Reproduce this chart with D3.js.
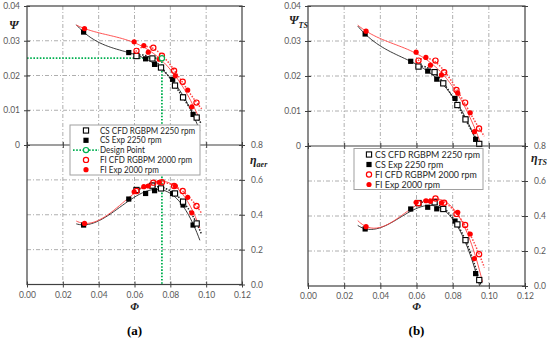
<!DOCTYPE html>
<html><head><meta charset="utf-8">
<script src="https://cdn.jsdelivr.net/npm/d3@7"></script>
<style>body{margin:0;background:#fff}svg{display:block}</style>
</head><body>
<svg id="c" width="550" height="340"></svg>
<script>
// ---------- DATA ----------
const xTicks = [0, 0.02, 0.04, 0.06, 0.08, 0.10, 0.12];
const psiTicks = [0, 0.01, 0.02, 0.03, 0.04];
const etaTicks = [0, 0.2, 0.4, 0.6, 0.8];
const etaExtraTicks = [1.0, 1.2, 1.4, 1.6];

const phiCSCFD = [0.0611, 0.0700, 0.0748, 0.0826, 0.0871, 0.0947];
const phiCSExp = [0.0316, 0.0568, 0.0662, 0.0712, 0.0813, 0.0871, 0.0927];
const phiFICFD = [0.0611, 0.0705, 0.0753, 0.0821, 0.0869, 0.0946];
const phiFIExp = [0.0321, 0.0598, 0.0652, 0.0677, 0.0738, 0.0828, 0.0897, 0.0920];

// panel (a)
const psiCSCFD = [0.0256, 0.0249, 0.0223, 0.0171, 0.0137, 0.0079];
const psiCSExp = [0.0325, 0.0266, 0.0248, 0.0232, 0.0189, 0.0138, 0.0088];
const psiFICFD = [0.0271, 0.0280, 0.0257, 0.0214, 0.0182, 0.0122];
const psiFIExp = [0.0335, 0.0297, 0.0286, 0.0267, 0.0247, 0.0199, 0.0158, 0.0110];
const etaCSCFD = [0.542, 0.567, 0.551, 0.522, 0.475, 0.350];
const etaCSExp = [0.341, 0.490, 0.522, 0.538, 0.522, 0.456, 0.341];
const etaFICFD = [0.536, 0.584, 0.586, 0.565, 0.536, 0.450];
const etaFIExp = [0.350, 0.532, 0.561, 0.565, 0.586, 0.565, 0.500, 0.411];

// panel (b)
const psiTSCSCFD = [0.0227, 0.0211, 0.0179, 0.0117, 0.0076, 0.0006];
const psiTSCSExp = [0.0320, 0.0242, 0.0214, 0.0191, 0.0136, 0.0077, 0.0019];
const psiTSFICFD = [0.0244, 0.0244, 0.0211, 0.0160, 0.0124, 0.0050];
const psiTSFIExp = [0.0328, 0.0268, 0.0253, 0.0231, 0.0203, 0.0151, 0.0095, 0.0041];
const etaTSCSCFD = [0.474, 0.478, 0.440, 0.352, 0.262, 0.034];
const etaTSCSExp = [0.326, 0.440, 0.450, 0.441, 0.371, 0.264, 0.071];
const etaTSFICFD = [0.473, 0.500, 0.476, 0.412, 0.349, 0.182];
const etaTSFIExp = [0.339, 0.478, 0.487, 0.484, 0.475, 0.421, 0.297, 0.157];

const designPhi = 0.0753, designPsi = 0.025;
const expTrendRange = [0.0275, 0.0965];
const cfdTrendRange = [0.0595, 0.0975];

const legendA = ["CS CFD RGBPM 2250 rpm", "CS Exp 2250 rpm", "Design Point", "FI CFD RGBPM 2000 rpm", "FI Exp 2000 rpm"];
const legendB = ["CS CFD RGBPM 2250 rpm", "CS Exp 2250 rpm", "FI CFD RGBPM 2000 rpm", "FI Exp 2000 rpm"];

// ---------- HELPERS ----------
const RED = "#ff0000", GREEN = "#00b050", GRID = "#9a9a9a", FRAME = "#404040", TXT = "#595959";
const SANS = "Lato, 'Liberation Sans', sans-serif";
const svg = d3.select("#c");

function polyfit(xs, ys, deg) {
  const n = deg + 1, mx = d3.mean(xs), s = 0.03;
  const A = Array.from({length: n}, () => new Array(n + 1).fill(0));
  xs.forEach((x0, k) => {
    const x = (x0 - mx) / s;
    for (let i = 0; i < n; i++) {
      for (let j = 0; j < n; j++) A[i][j] += Math.pow(x, i + j);
      A[i][n] += ys[k] * Math.pow(x, i);
    }
  });
  for (let i = 0; i < n; i++) {
    let p = i; for (let r = i + 1; r < n; r++) if (Math.abs(A[r][i]) > Math.abs(A[p][i])) p = r;
    [A[i], A[p]] = [A[p], A[i]];
    for (let r = 0; r < n; r++) if (r !== i) {
      const f = A[r][i] / A[i][i];
      for (let c = i; c <= n; c++) A[r][c] -= f * A[i][c];
    }
  }
  const coef = A.map((row, i) => row[n] / row[i]);
  return x0 => { const x = (x0 - mx) / s; return coef.reduce((a, c, i) => a + c * Math.pow(x, i), 0); };
}

function marker(g, cx, cy, sym, r) {
  if (sym === "os") g.append("rect").attr("x", cx - r).attr("y", cy - r).attr("width", 2 * r).attr("height", 2 * r).attr("fill", "#fff").attr("stroke", "#000").attr("stroke-width", 1.1);
  else if (sym === "fs") g.append("rect").attr("x", cx - r).attr("y", cy - r).attr("width", 2 * r).attr("height", 2 * r).attr("fill", "#000");
  else if (sym === "oc") g.append("circle").attr("cx", cx).attr("cy", cy).attr("r", r).attr("fill", "none").attr("stroke", RED).attr("stroke-width", 1.2);
  else if (sym === "fc") g.append("circle").attr("cx", cx).attr("cy", cy).attr("r", r).attr("fill", RED);
  else if (sym === "dp") g.append("circle").attr("cx", cx).attr("cy", cy).attr("r", r).attr("fill", "#fff").attr("stroke", GREEN).attr("stroke-width", 1.2);
}

function drawPanel(cfg) {
  const g = svg.append("g");
  const x = d3.scaleLinear().domain([0, 0.12]).range([cfg.x0, cfg.x1]);
  const yT = d3.scaleLinear().domain([0, 0.04]).range([cfg.ym, cfg.y0]);
  const yB = d3.scaleLinear().domain([0, 0.8]).range([cfg.y1, cfg.ym]);
  const yBfull = d3.scaleLinear().domain([0, 1.6]).range([cfg.y1, cfg.y0]);
  const id = cfg.id;

  // grid
  const grid = g.append("g").attr("stroke", GRID).attr("stroke-width", 0.8).attr("stroke-dasharray", "4,2,1,2");
  xTicks.slice(1, -1).forEach(t => grid.append("line").attr("x1", x(t)).attr("x2", x(t)).attr("y1", cfg.y0).attr("y2", cfg.y1));
  psiTicks.slice(1, -1).forEach(t => grid.append("line").attr("x1", cfg.x0).attr("x2", cfg.x1).attr("y1", yT(t)).attr("y2", yT(t)));
  etaTicks.slice(1, -1).forEach(t => grid.append("line").attr("x1", cfg.x0).attr("x2", cfg.x1).attr("y1", yB(t)).attr("y2", yB(t)));

  // clips
  const defs = svg.append("defs");
  defs.append("clipPath").attr("id", id + "top").append("rect").attr("x", cfg.x0).attr("y", cfg.y0).attr("width", cfg.x1 - cfg.x0).attr("height", cfg.ym - cfg.y0);
  defs.append("clipPath").attr("id", id + "bot").append("rect").attr("x", cfg.x0).attr("y", cfg.ym).attr("width", cfg.x1 - cfg.x0).attr("height", cfg.y1 - cfg.ym);

  // design point lines
  if (cfg.design) {
    const dl = g.append("g").attr("stroke", GREEN).attr("stroke-width", 1.8).attr("stroke-dasharray", "1.6,1.6").attr("fill", "none");
    dl.append("line").attr("x1", x(0)).attr("x2", x(designPhi)).attr("y1", yT(designPsi)).attr("y2", yT(designPsi));
    dl.append("line").attr("x1", x(designPhi)).attr("x2", x(designPhi)).attr("y1", yT(designPsi)).attr("y2", yB(0));
  }

  // trend lines + markers
  cfg.series.forEach(s => {
    [["top", s.top, yT], ["bot", s.bot, yB]].forEach(([part, ys, y]) => {
      const f = polyfit(s.phi, ys, 3);
      const rng = s.exp ? expTrendRange : cfdTrendRange;
      const pts = d3.range(0, 81).map(i => rng[0] + (rng[1] - rng[0]) * i / 80).map(p => [x(p), y(f(p))]);
      g.append("path").attr("clip-path", `url(#${id}${part})`)
        .attr("d", d3.line()(pts)).attr("fill", "none")
        .attr("stroke", s.color === "r" ? "#ff4040" : "#222")
        .attr("stroke-width", s.exp ? 0.9 : 1.5)
        .attr("stroke-dasharray", s.exp ? null : "1.5,1.5");
    });
  });
  cfg.series.forEach(s => {
    [[s.top, yT], [s.bot, yB]].forEach(([ys, y]) => {
      s.phi.forEach((p, i) => marker(g, x(p), y(ys[i]), s.sym, 2.6));
    });
  });
  if (cfg.design) marker(g, x(designPhi), yT(designPsi), "dp", 2.6);

  // frame
  g.append("rect").attr("x", cfg.x0).attr("y", cfg.y0).attr("width", cfg.x1 - cfg.x0).attr("height", cfg.y1 - cfg.y0)
    .attr("fill", "none").attr("stroke", FRAME).attr("stroke-width", 1.2);
  g.append("line").attr("x1", cfg.x0).attr("x2", cfg.x1).attr("y1", cfg.ym).attr("y2", cfg.ym).attr("stroke", FRAME).attr("stroke-width", 1.2);

  // axes
  const fmtX = d3.format(".2f");
  const style = sel => {
    sel.select(".domain").remove();
    sel.selectAll(".tick line").attr("stroke", FRAME);
    sel.selectAll("text").attr("fill", TXT).style("font-family", SANS).style("font-size", "8.5px");
  };
  const xb = g.append("g").attr("transform", `translate(0,${cfg.y1})`)
    .call(d3.axisBottom(x).tickValues(xTicks).tickFormat(fmtX).tickSize(3).tickPadding(4)).call(style);
  xb.selectAll(".tick line").attr("y1", -3).attr("y2", 3);
  const xm = g.append("g").attr("transform", `translate(0,${cfg.ym})`)
    .call(d3.axisBottom(x).tickValues(xTicks).tickFormat("").tickSize(3)).call(style);
  xm.selectAll(".tick line").attr("y1", -3).attr("y2", 3);
  const yl = g.append("g").attr("transform", `translate(${cfg.x0},0)`)
    .call(d3.axisLeft(yT).tickValues(psiTicks).tickFormat(d => d === 0 ? "0" : d3.format(".2f")(d)).tickSize(3).tickPadding(4)).call(style);
  yl.selectAll(".tick line").attr("x1", -3).attr("x2", 3);
  const yr = g.append("g").attr("transform", `translate(${cfg.x1},0)`)
    .call(d3.axisRight(yB).tickValues(etaTicks).tickFormat(d3.format(".1f")).tickSize(3).tickPadding(6)).call(style);
  yr.selectAll(".tick line").attr("x1", -3).attr("x2", 3);
  const yr2 = g.append("g").attr("transform", `translate(${cfg.x1},0)`)
    .call(d3.axisRight(yBfull).tickValues(etaExtraTicks).tickFormat("").tickSize(3)).call(style);
  yr2.selectAll(".tick line").attr("x1", -3).attr("x2", 3);

  // titles
  const serif = "'Liberation Serif', 'DejaVu Serif', serif";
  const t1 = g.append("text").attr("x", cfg.psiLab[0]).attr("y", cfg.psiLab[1]).style("font-family", serif)
    .style("font-style", "italic").style("font-weight", "bold").style("font-size", "12px").attr("fill", "#222");
  t1.append("tspan").text("Ψ");
  if (cfg.psiSub) t1.append("tspan").attr("dy", 4).style("font-size", "8px").text(cfg.psiSub);
  const t2 = g.append("text").attr("x", cfg.etaLab[0]).attr("y", cfg.etaLab[1]).style("font-family", serif)
    .style("font-style", "italic").style("font-weight", "bold").style("font-size", "12px").attr("fill", "#222");
  t2.append("tspan").text("η");
  t2.append("tspan").attr("dy", 3).style("font-size", "8px").text(cfg.etaSub);
  g.append("text").attr("x", x(0.06)).attr("y", 310).attr("text-anchor", "middle").style("font-family", serif)
    .style("font-style", "italic").style("font-weight", "bold").style("font-size", "11px").attr("fill", "#222").text("Φ");
  g.append("text").attr("x", x(0.06)).attr("y", 335).attr("text-anchor", "middle").style("font-family", serif)
    .style("font-weight", "bold").style("font-size", "13px").attr("fill", "#000").text(cfg.tag);

  // legend
  const L = cfg.legend;
  const lg = g.append("g");
  lg.append("rect").attr("x", L.x).attr("y", L.y).attr("width", L.w).attr("height", L.h)
    .attr("fill", "#fff").attr("stroke", "#a0a0a0").attr("stroke-width", 1);
  const texts = [];
  L.items.forEach((txt, i) => {
    const yy = L.y + L.pad + i * L.dy;
    const sym = L.syms[i];
    if (sym === "dp") {
      lg.append("line").attr("x1", L.sx - 13).attr("x2", L.sx + 13).attr("y1", yy).attr("y2", yy)
        .attr("stroke", GREEN).attr("stroke-width", 1.8).attr("stroke-dasharray", "1.6,1.6");
    }
    marker(lg, L.sx, yy, sym, 2.6);
    texts.push(lg.append("text").attr("x", L.tx).attr("y", yy).attr("dy", "0.35em").text(txt)
      .style("font-family", SANS).style("font-size", L.fs + "px").attr("fill", "#262626"));
  });
  // scale texts horizontally so the longest entry has the reference width
  const w0 = texts[0].node().getComputedTextLength();
  const k = L.tw / w0;
  texts.forEach(t => t.attr("textLength", t.node().getComputedTextLength() * k).attr("lengthAdjust", "spacingAndGlyphs"));
}

drawPanel({
  id: "a", x0: 27, x1: 242, y0: 6, ym: 145, y1: 284.5, design: true, tag: "(a)",
  psiLab: [9, 29], psiSub: null, etaLab: [250, 164], etaSub: "aer",
  series: [
    {phi: phiCSExp, top: psiCSExp, bot: etaCSExp, sym: "fs", color: "k", exp: true},
    {phi: phiCSCFD, top: psiCSCFD, bot: etaCSCFD, sym: "os", color: "k", exp: false},
    {phi: phiFIExp, top: psiFIExp, bot: etaFIExp, sym: "fc", color: "r", exp: true},
    {phi: phiFICFD, top: psiFICFD, bot: etaFICFD, sym: "oc", color: "r", exp: false}
  ],
  legend: {x: 70, y: 125, w: 130, h: 50, pad: 5.5, dy: 9.8, sx: 86, tx: 100, tw: 95, fs: 8.6, items: legendA, syms: ["os", "fs", "dp", "oc", "fc"]}
});
drawPanel({
  id: "b", x0: 308, x1: 525, y0: 6, ym: 146, y1: 286, design: false, tag: "(b)",
  psiLab: [289, 24], psiSub: "TS", etaLab: [531, 162], etaSub: "TS",
  series: [
    {phi: phiCSExp, top: psiTSCSExp, bot: etaTSCSExp, sym: "fs", color: "k", exp: true},
    {phi: phiCSCFD, top: psiTSCSCFD, bot: etaTSCSCFD, sym: "os", color: "k", exp: false},
    {phi: phiFIExp, top: psiTSFIExp, bot: etaTSFIExp, sym: "fc", color: "r", exp: true},
    {phi: phiFICFD, top: psiTSFICFD, bot: etaTSFICFD, sym: "oc", color: "r", exp: false}
  ],
  legend: {x: 354, y: 148.5, w: 129, h: 41, pad: 6, dy: 10, sx: 369, tx: 375, tw: 105, fs: 8.8, items: legendB, syms: ["os", "fs", "oc", "fc"]}
});
</script>
</body></html>
